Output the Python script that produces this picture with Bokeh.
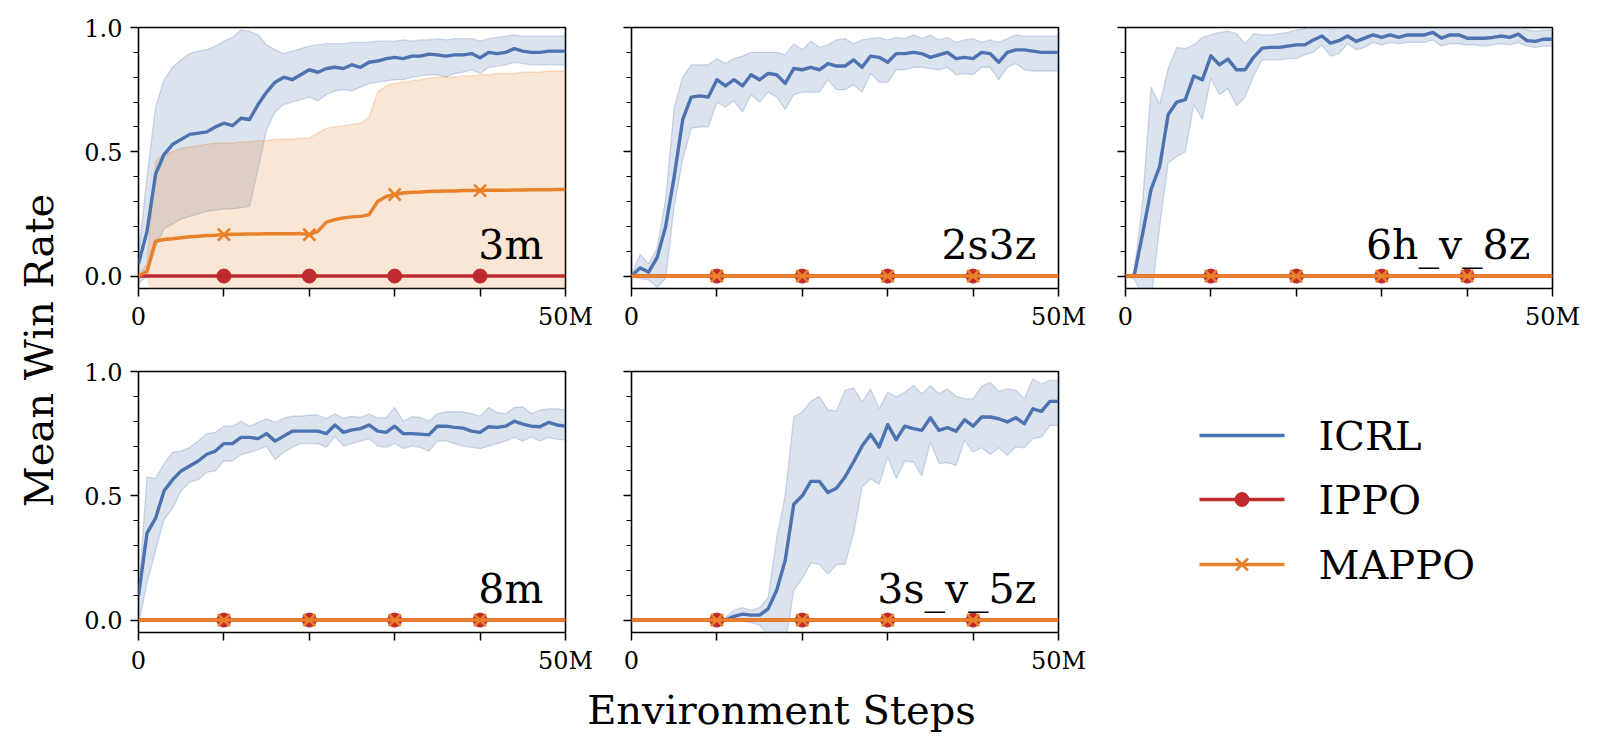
import math
from bokeh.plotting import figure
from bokeh.models import FixedTicker, Range1d, Label
from bokeh.core.properties import value
from bokeh.layouts import row, column
from bokeh.embed import file_html
from bokeh.resources import INLINE

FONT = "DejaVu Serif"

# ---------------- data ----------------
steps_m = list(range(51))            # environment steps, millions
marker_steps = [10, 20, 30, 40]
x_ticks = [0, 10, 20, 30, 40, 50]
x_tick_labels = {0: "0", 10: "", 20: "", 30: "", 40: "", 50: "50M"}
y_ticks = [0.0, 0.5, 1.0]
y_minor_ticks = [0.1, 0.2, 0.3, 0.4, 0.6, 0.7, 0.8, 0.9]
y_tick_labels = {0: "0.0", 0.5: "0.5", 1: "1.0"}
y_tick_blank = {0: "", 0.5: "", 1: ""}

env_names = ["3m", "2s3z", "6h_v_8z", "8m", "3s_v_5z"]
algo_names = ["ICRL", "IPPO", "MAPPO"]

zero_curve = [0.0] * 51

icrl_3m_mean = [0.05, 0.18, 0.41, 0.49, 0.53, 0.55, 0.57, 0.575, 0.58, 0.60,
                0.615, 0.605, 0.635, 0.63, 0.69, 0.74, 0.78, 0.80, 0.79, 0.81,
                0.83, 0.82, 0.835, 0.84, 0.835, 0.85, 0.84, 0.86, 0.865, 0.875,
                0.88, 0.875, 0.885, 0.885, 0.893, 0.89, 0.885, 0.89, 0.89, 0.895,
                0.878, 0.90, 0.895, 0.90, 0.915, 0.905, 0.90, 0.90, 0.905, 0.905,
                0.905]
icrl_3m_upper = [0.08, 0.40, 0.68, 0.79, 0.84, 0.87, 0.895, 0.905, 0.91, 0.925,
                 0.945, 0.96, 0.99, 0.985, 0.97, 0.93, 0.91, 0.895, 0.905, 0.915,
                 0.925, 0.93, 0.935, 0.935, 0.935, 0.94, 0.94, 0.94, 0.945, 0.945,
                 0.945, 0.95, 0.945, 0.95, 0.95, 0.955, 0.95, 0.955, 0.955, 0.955,
                 0.945, 0.955, 0.96, 0.965, 0.97, 0.965, 0.965, 0.965, 0.965, 0.965,
                 0.965]
icrl_3m_lower = [-0.03, 0.00, 0.12, 0.19, 0.21, 0.23, 0.24, 0.25, 0.26, 0.265,
                 0.27, 0.27, 0.275, 0.28, 0.43, 0.59, 0.66, 0.69, 0.70, 0.71,
                 0.72, 0.705, 0.73, 0.745, 0.75, 0.745, 0.76, 0.775, 0.78, 0.785,
                 0.79, 0.79, 0.80, 0.805, 0.81, 0.81, 0.80, 0.815, 0.82, 0.83,
                 0.815, 0.84, 0.845, 0.85, 0.86, 0.855, 0.85, 0.85, 0.85, 0.85,
                 0.85]
mappo_3m_mean = [0.0, 0.02, 0.14, 0.147, 0.15, 0.154, 0.158, 0.16, 0.163, 0.164,
                 0.167, 0.168, 0.168, 0.169, 0.169, 0.17, 0.17, 0.17, 0.17, 0.171,
                 0.167, 0.18, 0.217, 0.227, 0.234, 0.238, 0.24, 0.247, 0.30, 0.32,
                 0.328, 0.334, 0.337, 0.338, 0.34, 0.341, 0.342, 0.342, 0.344, 0.344,
                 0.344, 0.345, 0.345, 0.345, 0.346, 0.346, 0.347, 0.347, 0.347, 0.348,
                 0.348]
mappo_3m_upper = [0.0, 0.05, 0.46, 0.49, 0.50, 0.515, 0.52, 0.525, 0.53, 0.535,
                  0.535, 0.535, 0.54, 0.54, 0.545, 0.545, 0.55, 0.55, 0.55, 0.555,
                  0.555, 0.575, 0.595, 0.60, 0.605, 0.61, 0.615, 0.64, 0.74, 0.765,
                  0.775, 0.78, 0.785, 0.79, 0.795, 0.80, 0.80, 0.80, 0.805, 0.805,
                  0.81, 0.81, 0.815, 0.815, 0.815, 0.82, 0.82, 0.82, 0.825, 0.825,
                  0.825]
mappo_3m_lower = [0.0, -0.01, -0.18, -0.2, -0.2, -0.2, -0.2, -0.2, -0.2, -0.2,
                  -0.2, -0.2, -0.2, -0.2, -0.21, -0.21, -0.21, -0.21, -0.21, -0.21,
                  -0.22, -0.215, -0.16, -0.146, -0.137, -0.134, -0.135, -0.146, -0.14, -0.125,
                  -0.12, -0.12, -0.12, -0.12, -0.12, -0.12, -0.12, -0.12, -0.12, -0.12,
                  -0.12, -0.12, -0.12, -0.12, -0.12, -0.12, -0.12, -0.12, -0.13, -0.13,
                  -0.13]

icrl_2s3z_mean = [0.0, 0.033, 0.016, 0.074, 0.20, 0.40, 0.63, 0.72, 0.725, 0.72,
                  0.79, 0.765, 0.79, 0.765, 0.81, 0.79, 0.815, 0.81, 0.775, 0.835,
                  0.83, 0.84, 0.83, 0.855, 0.845, 0.845, 0.87, 0.84, 0.885, 0.88,
                  0.86, 0.895, 0.895, 0.90, 0.895, 0.88, 0.89, 0.90, 0.875, 0.88,
                  0.875, 0.90, 0.895, 0.86, 0.90, 0.91, 0.91, 0.905, 0.90, 0.90,
                  0.90]
icrl_2s3z_upper = [0.005, 0.087, 0.05, 0.11, 0.31, 0.68, 0.80, 0.85, 0.85, 0.85,
                   0.875, 0.855, 0.875, 0.885, 0.90, 0.90, 0.90, 0.90, 0.89, 0.935,
                   0.91, 0.945, 0.92, 0.93, 0.95, 0.955, 0.935, 0.95, 0.955, 0.96,
                   0.95, 0.96, 0.955, 0.97, 0.955, 0.97, 0.95, 0.96, 0.94, 0.95,
                   0.955, 0.94, 0.95, 0.94, 0.955, 0.97, 0.965, 0.965, 0.965, 0.965,
                   0.965]
icrl_2s3z_lower = [0.0, -0.01, -0.015, -0.045, -0.01, 0.28, 0.47, 0.595, 0.60, 0.60,
                   0.70, 0.68, 0.705, 0.66, 0.73, 0.70, 0.74, 0.72, 0.67, 0.73,
                   0.74, 0.74, 0.74, 0.79, 0.75, 0.75, 0.77, 0.74, 0.815, 0.78,
                   0.78, 0.83, 0.83, 0.84, 0.84, 0.835, 0.83, 0.84, 0.81, 0.815,
                   0.81, 0.84, 0.84, 0.79, 0.84, 0.855, 0.83, 0.825, 0.825, 0.825,
                   0.825]

icrl_6h_mean = [0.0, 0.0, 0.17, 0.35, 0.44, 0.65, 0.70, 0.71, 0.805, 0.79,
                0.886, 0.85, 0.873, 0.83, 0.83, 0.88, 0.917, 0.92, 0.92, 0.925,
                0.93, 0.93, 0.95, 0.966, 0.937, 0.947, 0.966, 0.944, 0.957, 0.97,
                0.96, 0.97, 0.96, 0.97, 0.97, 0.97, 0.98, 0.957, 0.97, 0.97,
                0.957, 0.957, 0.957, 0.96, 0.966, 0.96, 0.973, 0.947, 0.944, 0.953,
                0.953]
icrl_6h_upper = [0.0, 0.01, 0.30, 0.76, 0.69, 0.835, 0.92, 0.915, 0.93, 0.96,
                 0.97, 0.98, 0.985, 0.975, 0.935, 0.975, 0.97, 0.97, 0.975, 0.98,
                 0.99, 0.995, 1.01, 1.02, 0.99, 1.0, 1.02, 1.0, 1.01, 1.02,
                 1.01, 1.02, 1.01, 1.02, 1.02, 1.02, 1.03, 1.0, 1.01, 1.01,
                 1.0, 1.0, 1.0, 1.0, 1.01, 1.0, 1.01, 0.99, 0.985, 0.99,
                 0.99]
icrl_6h_lower = [0.0, -0.01, -0.08, -0.1, 0.2, 0.455, 0.48, 0.50, 0.69, 0.63,
                 0.795, 0.73, 0.755, 0.685, 0.72, 0.805, 0.87, 0.87, 0.87, 0.875,
                 0.875, 0.89, 0.90, 0.93, 0.885, 0.895, 0.935, 0.91, 0.92, 0.94,
                 0.93, 0.94, 0.935, 0.94, 0.94, 0.94, 0.95, 0.925, 0.935, 0.935,
                 0.93, 0.93, 0.925, 0.93, 0.935, 0.93, 0.94, 0.925, 0.92, 0.925,
                 0.925]

icrl_8m_mean = [0.098, 0.35, 0.41, 0.52, 0.565, 0.60, 0.62, 0.64, 0.667, 0.68,
                0.71, 0.71, 0.735, 0.735, 0.73, 0.75, 0.72, 0.74, 0.76, 0.76,
                0.76, 0.76, 0.75, 0.785, 0.755, 0.765, 0.77, 0.785, 0.76, 0.755,
                0.78, 0.75, 0.75, 0.748, 0.745, 0.78, 0.78, 0.775, 0.772, 0.76,
                0.755, 0.778, 0.775, 0.78, 0.80, 0.788, 0.78, 0.778, 0.795, 0.785,
                0.78]
icrl_8m_upper = [0.10, 0.575, 0.57, 0.63, 0.675, 0.68, 0.695, 0.72, 0.75, 0.755,
                 0.78, 0.78, 0.80, 0.78, 0.795, 0.81, 0.795, 0.812, 0.82, 0.82,
                 0.825, 0.825, 0.81, 0.83, 0.812, 0.82, 0.815, 0.83, 0.812, 0.815,
                 0.855, 0.80, 0.818, 0.815, 0.80, 0.83, 0.838, 0.838, 0.838, 0.83,
                 0.82, 0.855, 0.835, 0.83, 0.855, 0.858, 0.83, 0.845, 0.85, 0.85,
                 0.845]
icrl_8m_lower = [-0.02, 0.15, 0.28, 0.405, 0.45, 0.52, 0.555, 0.565, 0.595, 0.60,
                 0.64, 0.64, 0.665, 0.675, 0.685, 0.70, 0.645, 0.675, 0.695, 0.71,
                 0.71, 0.71, 0.695, 0.74, 0.70, 0.71, 0.72, 0.73, 0.70, 0.695,
                 0.71, 0.69, 0.70, 0.695, 0.68, 0.72, 0.72, 0.71, 0.70, 0.695,
                 0.69, 0.70, 0.71, 0.72, 0.735, 0.72, 0.737, 0.72, 0.735, 0.727,
                 0.725]

icrl_3s_mean = [0.0, 0.0, 0.0, 0.0, 0.0, 0.0, 0.0, 0.0, 0.0, 0.0,
                0.0, 0.0, 0.015, 0.024, 0.02, 0.02, 0.045, 0.12, 0.24, 0.466,
                0.50, 0.558, 0.558, 0.513, 0.53, 0.576, 0.636, 0.70, 0.747, 0.696,
                0.786, 0.726, 0.78, 0.77, 0.763, 0.814, 0.763, 0.774, 0.76, 0.806,
                0.78, 0.817, 0.817, 0.81, 0.797, 0.814, 0.79, 0.85, 0.84, 0.88,
                0.88]
icrl_3s_upper = [0.0, 0.0, 0.0, 0.0, 0.0, 0.0, 0.0, 0.0, 0.0, 0.0,
                 0.0, 0.01, 0.04, 0.05, 0.04, 0.05, 0.09, 0.33, 0.50, 0.817,
                 0.837, 0.88, 0.90, 0.846, 0.84, 0.924, 0.934, 0.877, 0.93, 0.85,
                 0.917, 0.897, 0.917, 0.944, 0.91, 0.944, 0.91, 0.93, 0.90, 0.89,
                 0.89, 0.94, 0.957, 0.92, 0.93, 0.925, 0.89, 0.97, 0.95, 0.964,
                 0.964]
icrl_3s_lower = [0.0, 0.0, 0.0, 0.0, 0.0, 0.0, 0.0, 0.0, 0.0, 0.0,
                 0.0, -0.005, 0.0, -0.005, -0.01, -0.02, -0.06, -0.1, -0.1, 0.12,
                 0.167, 0.23, 0.224, 0.185, 0.224, 0.224, 0.348, 0.535, 0.569, 0.546,
                 0.656, 0.569, 0.64, 0.636, 0.58, 0.716, 0.63, 0.633, 0.622, 0.723,
                 0.676, 0.693, 0.666, 0.693, 0.663, 0.696, 0.693, 0.73, 0.736, 0.783,
                 0.783]

icrl_by_env = {
    "3m": (icrl_3m_mean, icrl_3m_lower, icrl_3m_upper),
    "2s3z": (icrl_2s3z_mean, icrl_2s3z_lower, icrl_2s3z_upper),
    "6h_v_8z": (icrl_6h_mean, icrl_6h_lower, icrl_6h_upper),
    "8m": (icrl_8m_mean, icrl_8m_lower, icrl_8m_upper),
    "3s_v_5z": (icrl_3s_mean, icrl_3s_lower, icrl_3s_upper),
}
mappo_by_env = {
    "3m": (mappo_3m_mean, mappo_3m_lower, mappo_3m_upper),
    "2s3z": (zero_curve, None, None),
    "6h_v_8z": (zero_curve, None, None),
    "8m": (zero_curve, None, None),
    "3s_v_5z": (zero_curve, None, None),
}
ippo_by_env = {name: zero_curve for name in env_names}

# ---------------- style ----------------
ICRL_C = "#4C72B0"
IPPO_C = "#BF2A2F"
MAPPO_C = "#E8812A"
FW, FH = 427, 261
LW = 3.4
CIRCLE_SIZE = 14
X_SIZE = 17
X_LW = 2.6
mk_idx = [steps_m.index(s) for s in marker_steps]


def style_axes(p, show_y):
    xa = p.xaxis[0]
    ya = p.yaxis[0]
    xa.ticker = FixedTicker(ticks=x_ticks)
    xa.major_label_overrides = x_tick_labels
    ya.ticker = FixedTicker(ticks=y_ticks, minor_ticks=y_minor_ticks)
    ya.major_label_overrides = y_tick_labels if show_y else y_tick_blank
    for ax in (xa, ya):
        ax.axis_line_color = None
        ax.major_tick_line_color = "black"
        ax.major_tick_line_width = 1.5
        ax.major_tick_out = 8
        ax.major_tick_in = 0
        ax.minor_tick_line_color = "black"
        ax.minor_tick_line_width = 1.2
        ax.minor_tick_out = 5
        ax.minor_tick_in = 0
        ax.major_label_text_font = FONT
        ax.major_label_text_font_size = "24px"
        ax.major_label_text_color = "black"
    xa.major_label_standoff = 6
    ya.major_label_standoff = 8


def panel(name, show_y, bl, br, bt, bb):
    p = figure(frame_width=FW, frame_height=FH,
               min_border_left=bl, min_border_right=br,
               min_border_top=bt, min_border_bottom=bb,
               x_range=Range1d(0, 50), y_range=Range1d(-0.05, 1.0),
               output_backend="svg", toolbar_location=None, tools="")
    p.grid.visible = False
    p.outline_line_color = "black"
    p.outline_line_width = 1.6
    p.outline_line_alpha = 1.0
    p.background_fill_color = "white"
    p.border_fill_color = "white"

    i_mean, i_lo, i_hi = icrl_by_env[name]
    m_mean, m_lo, m_hi = mappo_by_env[name]
    ippo = ippo_by_env[name]

    p.varea(x=steps_m, y1=i_lo, y2=i_hi, fill_color=ICRL_C, fill_alpha=0.2)
    p.line(steps_m, i_hi, line_color=ICRL_C, line_alpha=0.25, line_width=1.3)
    p.line(steps_m, i_lo, line_color=ICRL_C, line_alpha=0.25, line_width=1.3)
    if m_lo is not None:
        p.varea(x=steps_m, y1=m_lo, y2=m_hi, fill_color=MAPPO_C, fill_alpha=0.2)
        p.line(steps_m, m_hi, line_color=MAPPO_C, line_alpha=0.25, line_width=1.3)

    p.line(steps_m, i_mean, line_color=ICRL_C, line_width=LW, line_join="round")
    p.line(steps_m, ippo, line_color=IPPO_C, line_width=LW, line_join="round")
    p.scatter([steps_m[i] for i in mk_idx], [ippo[i] for i in mk_idx],
              marker="circle", size=CIRCLE_SIZE, fill_color=IPPO_C, line_color=IPPO_C)
    p.line(steps_m, m_mean, line_color=MAPPO_C, line_width=LW, line_join="round")
    p.scatter([steps_m[i] for i in mk_idx], [m_mean[i] for i in mk_idx],
              marker="x", size=X_SIZE, line_color=MAPPO_C, line_width=X_LW)

    p.add_layout(Label(x=47.4, y=0.125, text=name, text_align="right",
                       text_baseline="alphabetic", text_font=FONT,
                       text_font_size="41px", text_color="black"))
    style_axes(p, show_y)
    return p


f1 = panel("3m", True, 68, 33, 27, 63)
f2 = panel("2s3z", False, 33, 33, 27, 63)
f3 = panel("6h_v_8z", False, 34, 48, 27, 63)
f4 = panel("8m", True, 68, 33, 20, 50)
f5 = panel("3s_v_5z", False, 33, 33, 20, 50)

# legend panel: pixel-unit canvas (y grows downward)
LEG_W, LEG_H = 509, 331
leg = figure(frame_width=LEG_W, frame_height=LEG_H, min_border=0,
             x_axis_location=None, y_axis_location=None,
             x_range=Range1d(0, LEG_W), y_range=Range1d(LEG_H, 0),
             output_backend="svg", toolbar_location=None, tools="")
leg.grid.visible = False
leg.outline_line_color = None
leg_x0, leg_x1, leg_text_x = 108, 193, 227
leg_rows = [64, 128, 193]
leg_mid = (leg_x0 + leg_x1) / 2
leg.line([leg_x0, leg_x1], [leg_rows[0], leg_rows[0]], line_color=ICRL_C, line_width=LW)
leg.line([leg_x0, leg_x1], [leg_rows[1], leg_rows[1]], line_color=IPPO_C, line_width=LW)
leg.scatter([leg_mid], [leg_rows[1]], marker="circle", size=CIRCLE_SIZE,
            fill_color=IPPO_C, line_color=IPPO_C)
leg.line([leg_x0, leg_x1], [leg_rows[2], leg_rows[2]], line_color=MAPPO_C, line_width=LW)
leg.scatter([leg_mid], [leg_rows[2]], marker="x", size=X_SIZE,
            line_color=MAPPO_C, line_width=X_LW)
leg.text(x=[leg_text_x] * 3, y=leg_rows, text=algo_names,
         text_font=value(FONT), text_font_size="40px", text_color="black",
         text_baseline="middle", text_align="left")

# shared axis titles
ylab = figure(frame_width=70, frame_height=753, min_border=0,
              x_axis_location=None, y_axis_location=None,
              x_range=Range1d(0, 1), y_range=Range1d(0, 1),
              output_backend="svg", toolbar_location=None, tools="")
ylab.grid.visible = False
ylab.outline_line_color = None
ylab.add_layout(Label(x=38, y=403, x_units="screen", y_units="screen",
                      text="Mean Win Rate", angle=math.pi / 2,
                      text_align="center", text_baseline="middle",
                      text_font=FONT, text_font_size="40px", text_color="black"))

xlab = figure(frame_width=1530, frame_height=71, min_border=0,
              x_axis_location=None, y_axis_location=None,
              x_range=Range1d(0, 1), y_range=Range1d(0, 1),
              output_backend="svg", toolbar_location=None, tools="")
xlab.grid.visible = False
xlab.outline_line_color = None
xlab.add_layout(Label(x=711, y=44, x_units="screen", y_units="screen",
                      text="Environment Steps",
                      text_align="center", text_baseline="middle",
                      text_font=FONT, text_font_size="40px", text_color="black"))

layout = row(ylab, column(row(f1, f2, f3), row(f4, f5, leg), xlab))

with open("out.html", "w") as fh:
    fh.write(file_html(layout, INLINE))
